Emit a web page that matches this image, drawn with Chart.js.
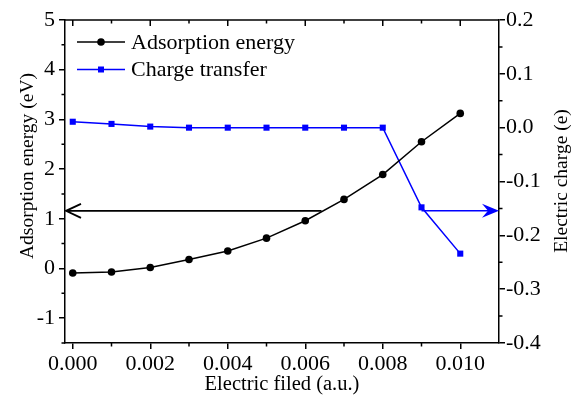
<!DOCTYPE html>
<html>
<head>
<meta charset="utf-8">
<script src="https://cdn.jsdelivr.net/npm/chart.js"></script>
<style>
  html, body { margin: 0; padding: 0; background: #fff; }
</style>
</head>
<body>
<canvas id="grfc-campo" width="572" height="395"></canvas>
<script>
// data
const field = [0, 0.001, 0.002, 0.003, 0.004, 0.005, 0.006, 0.007, 0.008, 0.009, 0.010];
const energy = [-0.09, -0.07, 0.02, 0.18, 0.35, 0.61, 0.96, 1.39, 1.89, 2.55, 3.12];
const charge = [0.011, 0.007, 0.002, 0, 0, 0, 0, 0, 0, -0.148, -0.234];

const ticksX = [0, 0.002, 0.004, 0.006, 0.008, 0.010];
const ticksEnergy = [-1, 0, 1, 2, 3, 4, 5];
const ticksCharge = [-0.4, -0.3, -0.2, -0.1, 0.0, 0.1, 0.2];

// arrows: [x start, x end, y]
const arrowEnergy = [0.00642, -0.0002, 1.16];
const arrowCharge = [0.009, 0.011, -0.1545];

const FONT = "'Liberation Serif', 'Times New Roman', serif";
Chart.defaults.font.family = FONT;
Chart.defaults.font.size = 22;
Chart.defaults.color = '#000';

const BLUE = '#0000ff';

function marker(ctx, style, x, y, color) {
  ctx.fillStyle = color;
  ctx.beginPath();
  if (style === 'circle') ctx.arc(x, y, 3.8, 0, Math.PI * 2);
  else ctx.rect(x - 3, y - 3, 6, 6);
  ctx.fill();
}

function sideTitle(ctx, text, x, y) {
  ctx.save();
  ctx.font = '19.5px ' + FONT;
  ctx.fillStyle = '#000';
  ctx.textAlign = 'center';
  ctx.textBaseline = 'middle';
  ctx.translate(x, y);
  ctx.rotate(-Math.PI / 2);
  ctx.fillText(text, 0, 0);
  ctx.restore();
}

/* frame, minor ticks, arrows, legend, y titles */
const extras = {
  id: 'extras',
  afterDraw(chart) {
    const ctx = chart.ctx, a = chart.chartArea;
    const sx = chart.scales.x, sy = chart.scales.y, s1 = chart.scales.y1;
    ctx.save();
    ctx.strokeStyle = '#000';
    ctx.lineWidth = 1.5;

    // top border
    ctx.beginPath();
    ctx.moveTo(a.left, a.top);
    ctx.lineTo(a.right, a.top);
    ctx.stroke();

    // x minor ticks (bottom, outward) + top ticks (inward)
    ctx.beginPath();
    for (let v = 0; v <= 0.0105; v += 0.001) {
      const px = sx.getPixelForValue(v);
      const major = Math.round(v * 1000) % 2 === 0;
      if (!major) { ctx.moveTo(px, a.bottom); ctx.lineTo(px, a.bottom + 3.5); }
      ctx.moveTo(px, a.top); ctx.lineTo(px, a.top + (major ? 6 : 3.5));
    }
    // left minor ticks
    for (let v = -1.5; v <= 5; v += 1) {
      const py = sy.getPixelForValue(v);
      ctx.moveTo(a.left, py); ctx.lineTo(a.left - 3.5, py);
    }
    // right minor ticks
    for (let v = -0.35; v <= 0.2; v += 0.1) {
      const py = s1.getPixelForValue(v);
      ctx.moveTo(a.right, py); ctx.lineTo(a.right + 3.5, py);
    }
    ctx.stroke();

    // black arrow to the left axis
    let x0 = sx.getPixelForValue(arrowEnergy[0]);
    let x1 = sx.getPixelForValue(arrowEnergy[1]);
    let y = sy.getPixelForValue(arrowEnergy[2]);
    ctx.strokeStyle = '#000';
    ctx.lineWidth = 1.8;
    ctx.beginPath();
    ctx.moveTo(x0, y); ctx.lineTo(x1 + 1, y);
    ctx.moveTo(x1 + 16, y - 7); ctx.lineTo(x1 + 1, y); ctx.lineTo(x1 + 16, y + 7);
    ctx.stroke();

    // blue arrow to the right axis
    x0 = sx.getPixelForValue(arrowCharge[0]);
    x1 = sx.getPixelForValue(arrowCharge[1]);
    y = s1.getPixelForValue(arrowCharge[2]);
    ctx.strokeStyle = BLUE;
    ctx.fillStyle = BLUE;
    ctx.lineWidth = 1.5;
    ctx.beginPath();
    ctx.moveTo(x0, y); ctx.lineTo(x1 - 8, y);
    ctx.stroke();
    ctx.beginPath();
    ctx.moveTo(x1, y);
    ctx.lineTo(x1 - 17, y - 7);
    ctx.lineTo(x1 - 11, y);
    ctx.lineTo(x1 - 17, y + 7);
    ctx.closePath();
    ctx.fill();

    // legend
    ctx.font = '22px ' + FONT;
    ctx.textBaseline = 'middle';
    ctx.textAlign = 'left';
    chart.data.datasets.forEach((ds, i) => {
      const ly = a.top + 22 + i * 27.5;
      ctx.strokeStyle = ds.borderColor;
      ctx.lineWidth = 1.5;
      ctx.beginPath();
      ctx.moveTo(a.left + 12, ly); ctx.lineTo(a.left + 60, ly);
      ctx.stroke();
      marker(ctx, ds.pointStyle, a.left + 36, ly, ds.borderColor);
      ctx.fillStyle = '#000';
      ctx.fillText(ds.label, a.left + 66, ly + 1);
    });
    ctx.restore();

    // axis titles at the sides, both reading bottom to top
    sideTitle(ctx, 'Adsorption energy (eV)', 28, 166);
    sideTitle(ctx, 'Electric charge (e)', 562, 181);
  }
};

const axisGrid = { drawOnChartArea: false, tickLength: 6, color: '#000', lineWidth: 1.5 };
const axisBorder = { color: '#000', width: 1.5 };

let ctx1 = document.getElementById('grfc-campo');
new Chart(ctx1, {
  type: 'line',
  data: {
    datasets: [{
      label: 'Adsorption energy',
      data: field.map((x, i) => ({ x: x, y: energy[i] })),
      yAxisID: 'y',
      borderColor: '#000',
      backgroundColor: '#000',
      borderWidth: 1.5,
      pointStyle: 'circle',
      pointRadius: 3.8,
      pointBorderWidth: 0
    }, {
      label: 'Charge transfer',
      data: field.map((x, i) => ({ x: x, y: charge[i] })),
      yAxisID: 'y1',
      borderColor: BLUE,
      backgroundColor: BLUE,
      borderWidth: 1.5,
      pointStyle: 'rect',
      pointRadius: 4.3,
      pointBorderWidth: 0
    }]
  },
  options: {
    responsive: false,
    devicePixelRatio: 1,
    animation: false,
    layout: { padding: { top: 20, left: 0, right: 0, bottom: 0 } },
    plugins: { legend: { display: false }, tooltip: { enabled: false } },
    scales: {
      x: {
        type: 'linear',
        position: 'bottom',
        min: -0.0002,
        max: 0.011,
        afterBuildTicks: s => { s.ticks = ticksX.map(v => ({ value: v })); },
        afterFit: s => { s.height = 52; },
        ticks: { callback: v => v.toFixed(3), padding: 2, maxRotation: 0, autoSkip: false },
        grid: axisGrid,
        border: axisBorder,
        title: { display: true, text: 'Electric filed (a.u.)', font: { size: 20.5, lineHeight: 1 }, padding: { top: 0, bottom: 0 } }
      },
      y: {
        position: 'left',
        min: -1.5,
        max: 5,
        afterBuildTicks: s => { s.ticks = ticksEnergy.map(v => ({ value: v })); },
        afterFit: s => { s.width = 65; },
        ticks: { callback: v => String(v), padding: 4 },
        grid: axisGrid,
        border: axisBorder
      },
      y1: {
        position: 'right',
        min: -0.4,
        max: 0.2,
        afterBuildTicks: s => { s.ticks = ticksCharge.map(v => ({ value: v })); },
        afterFit: s => { s.width = 73; },
        ticks: { callback: v => v.toFixed(1), padding: 1 },
        grid: axisGrid,
        border: axisBorder
      }
    }
  },
  plugins: [extras]
});
</script>
</body>
</html>
